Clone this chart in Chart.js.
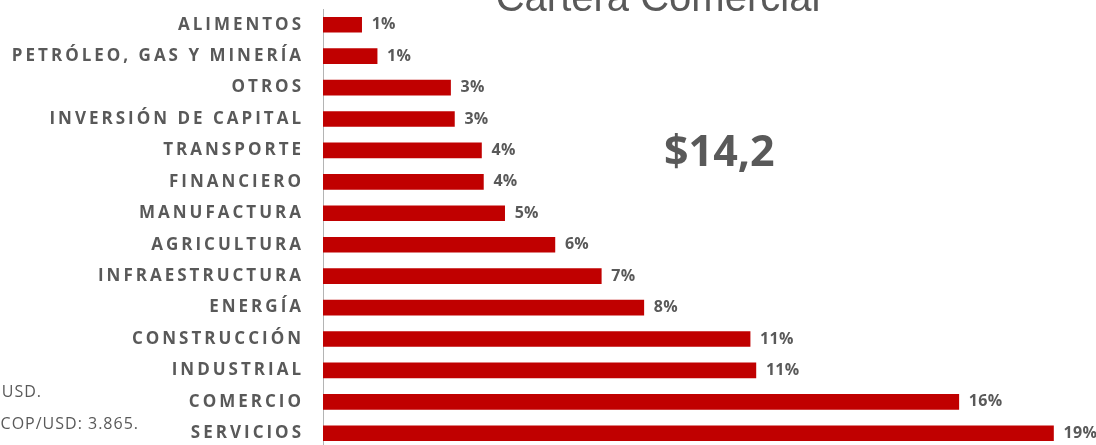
<!DOCTYPE html>
<html>
<head>
<meta charset="utf-8">
<script src="https://cdn.jsdelivr.net/npm/chart.js@4"></script>
<style>
    html, body { margin: 0; padding: 0; background: #fff; overflow: hidden; }
    #wrap { width: 1096px; height: 445px; overflow: hidden; }
    canvas { display: block; }
</style>
</head>
<body>
<div id="wrap"><canvas id="CarteraChart" width="1096" height="450"></canvas></div>
<script>
// sectors, top to bottom
const sectors = [
    "ALIMENTOS", "PETRÓLEO, GAS Y MINERÍA", "OTROS", "INVERSIÓN DE CAPITAL",
    "TRANSPORTE", "FINANCIERO", "MANUFACTURA", "AGRICULTURA",
    "INFRAESTRUCTURA", "ENERGÍA", "CONSTRUCCIÓN", "INDUSTRIAL",
    "COMERCIO", "SERVICIOS"
];
// share of the portfolio (%)
const shares = [1.0, 1.4, 3.3, 3.4, 4.1, 4.15, 4.7, 6.0, 7.2, 8.3, 11.05, 11.2, 16.45, 18.9];
// labels as printed next to each bar
const shownPct = ["1%", "1%", "3%", "3%", "4%", "4%", "5%", "6%", "7%", "8%", "11%", "11%", "16%", "19%"];

const chartTitle = "Cartera Comercial";
const totalText = "$14,2";
const notes = ["USD.", "COP/USD: 3.865."];

const GREY = "#595959";

// spaced-out category labels (ticks are drawn before the bars)
const letterSpacing = {
    id: "letterSpacing",
    beforeDraw(chart) {
        chart.ctx.letterSpacing = "3px";
    },
    beforeDatasetsDraw(chart) {
        chart.ctx.letterSpacing = "0px";
    },
};

const barLabels = {
    id: "barLabels",
    afterDatasetsDraw(chart) {
        const ctx = chart.ctx;
        const meta = chart.getDatasetMeta(0);
        ctx.save();
        ctx.font = 'bold 16px "Open Sans"';
        ctx.letterSpacing = "0.3px";
        ctx.fillStyle = GREY;
        ctx.textAlign = "left";
        ctx.textBaseline = "middle";
        meta.data.forEach((bar, i) => {
            ctx.fillText(shownPct[i], bar.x + 10, bar.y);
        });
        ctx.restore();
    },
};

const extraText = {
    id: "extraText",
    afterDraw(chart) {
        const ctx = chart.ctx;
        ctx.save();
        ctx.letterSpacing = "0px";
        ctx.fillStyle = GREY;

        // title, mostly cut off at the top
        ctx.font = '40px "Liberation Sans"';
        ctx.textAlign = "center";
        ctx.textBaseline = "alphabetic";
        ctx.fillText(chartTitle, 658, 11);

        // total
        ctx.font = 'bold 43px "Open Sans"';
        ctx.textAlign = "left";
        ctx.fillText(totalText, 664, 166);

        // notes, cut off on the left
        ctx.font = '16px "Open Sans"';
        ctx.letterSpacing = "1px";
        ctx.textAlign = "right";
        ctx.fillText(notes[0], 42, 397);
        ctx.fillText(notes[1], 139, 429);
        ctx.restore();
    },
};

function CarteraChart() {
    const ctx = document.getElementById("CarteraChart");

    new Chart(ctx, {
        type: "bar",
        data: {
            labels: sectors,
            datasets: [
                {
                    label: "Cartera",
                    data: shares,
                    backgroundColor: "#c00000",
                    borderWidth: 0,
                    barThickness: 15,
                },
            ],
        },
        options: {
            indexAxis: "y",
            responsive: false,
            animation: false,
            devicePixelRatio: 1,
            layout: {
                padding: { top: 9, bottom: 1, left: 0, right: 0 }
            },
            plugins: {
                legend: { display: false },
                tooltip: { enabled: false },
                title: { display: false },
            },
            scales: {
                x: {
                    display: false,
                    min: 0,
                    max: 20,
                },
                y: {
                    grid: { display: false, drawTicks: false },
                    border: { display: true, color: "#b4b4b4", width: 1 },
                    ticks: {
                        color: GREY,
                        padding: 19,
                        font: { family: "Open Sans", weight: "bold", size: 17 },
                    },
                    afterFit(scale) {
                        scale.width = 323;
                        scale.paddingTop = 0;
                        scale.paddingBottom = 0;
                    },
                },
            },
        },
        plugins: [letterSpacing, barLabels, extraText],
    });
}

CarteraChart();
</script>
</body>
</html>
